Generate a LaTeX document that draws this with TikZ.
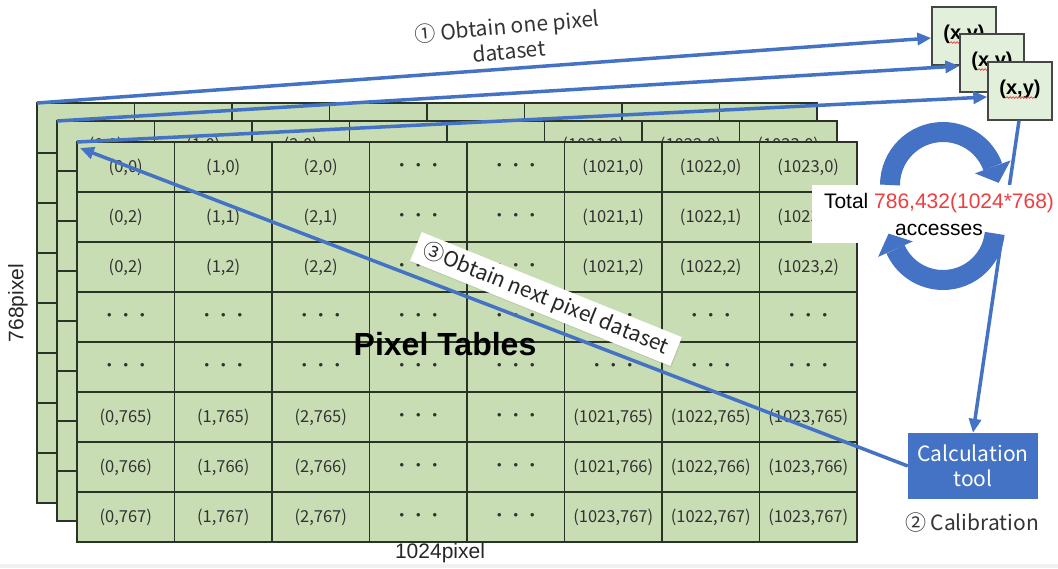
\documentclass[tikz,border=0pt]{standalone}
\usepackage{fontspec}
\setmainfont{Liberation Sans}
\newfontfamily\jp{Noto Sans CJK JP}
\usetikzlibrary{arrows.meta,decorations.pathmorphing,calc,shadows}
\definecolor{cellgreen}{RGB}{200,221,180}
\definecolor{boxgreen}{RGB}{226,239,218}
\definecolor{gridc}{RGB}{42,52,38}
\definecolor{boxborder}{RGB}{70,70,70}
\definecolor{myblue}{RGB}{68,114,196}
\definecolor{myred}{RGB}{238,62,62}
\definecolor{celltext}{RGB}{50,50,50}
\newcommand\dd{・・・}
\newcommand\fsz[2]{\fontsize{#1}{#2}\selectfont}
\tikzset{
  gridline/.style={draw=gridc,line width=1.4pt},
  celltxt/.style={font=\jp\fsz{16.5}{18},text=celltext,inner sep=0pt},
  flow/.style={draw=myblue,line width=3.5pt,-{Triangle[length=14pt,width=12pt]}},
  bigarc/.style={draw=myblue,line width=20pt},
  bighead/.style={fill=myblue},
  xybox/.style={draw=boxborder,fill=boxgreen,line width=1.3pt,minimum width=64pt,minimum height=58pt,inner sep=0pt},
  xytxt/.style={font=\bfseries\fsz{20}{22},inner sep=0pt},
  squig/.style={draw=myred,line width=0.7pt,decorate,decoration={snake,amplitude=0.8pt,segment length=3pt}},
  lbl/.style={font=\jp\fsz{21}{25},align=center,inner sep=0pt,text=black!80},
}
\newcommand\pixgrid[2]{%
  \fill[cellgreen] (#1,#2) rectangle ++(780,400);
  \foreach \i in {1,...,7} \draw[gridline] ({#1+\i*97.5},#2) -- ++(0,400);
  \foreach \j in {1,...,7} \draw[gridline] (#1,{#2+\j*50}) -- ++(780,0);
  \draw[gridline] (#1,#2) rectangle ++(780,400);
}
\begin{document}
\begin{tikzpicture}[x=1pt,y=-1pt]
\useasboundingbox (0,0) rectangle (1058,568);
\fill[gray!12] (0,564) rectangle (1058,568);

% back and middle tables
\pixgrid{37}{103}
\pixgrid{57}{121}
\foreach [count=\c from 0] \t in {{(0,0)},{(1,0)},{(2,0)},\dd,\dd,{(1021,0)},{(1022,0)},{(1023,0)}}
  \node[celltxt] (ma\c) at ({105.75+97.5*\c},145) {\t};
% front table
\pixgrid{77}{142}
\foreach [count=\c from 0] \t in {{(0,0)},{(1,0)},{(2,0)},\dd,\dd,{(1021,0)},{(1022,0)},{(1023,0)}}
  \node[celltxt] (fa\c) at ({125.75+97.5*\c},167) {\t};
\foreach [count=\c from 0] \t in {{(0,2)},{(1,1)},{(2,1)},\dd,\dd,{(1021,1)},{(1022,1)},{(1023,1)}}
  \node[celltxt] (fb\c) at ({125.75+97.5*\c},217) {\t};
\foreach [count=\c from 0] \t in {{(0,2)},{(1,2)},{(2,2)},\dd,\dd,{(1021,2)},{(1022,2)},{(1023,2)}}
  \node[celltxt] (fc\c) at ({125.75+97.5*\c},267) {\t};
\foreach \c in {0,...,7}
  \node[celltxt] (fd\c) at ({125.75+97.5*\c},317) {\dd};
\foreach \c in {0,...,7}
  \node[celltxt] (fe\c) at ({125.75+97.5*\c},367) {\dd};
\foreach [count=\c from 0] \t in {{(0,765)},{(1,765)},{(2,765)},\dd,\dd,{(1021,765)},{(1022,765)},{(1023,765)}}
  \node[celltxt] (ff\c) at ({125.75+97.5*\c},417) {\t};
\foreach [count=\c from 0] \t in {{(0,766)},{(1,766)},{(2,766)},\dd,\dd,{(1021,766)},{(1022,766)},{(1023,766)}}
  \node[celltxt] (fg\c) at ({125.75+97.5*\c},467) {\t};
\foreach [count=\c from 0] \t in {{(0,767)},{(1,767)},{(2,767)},\dd,\dd,{(1023,767)},{(1022,767)},{(1023,767)}}
  \node[celltxt] (fh\c) at ({125.75+97.5*\c},517) {\t};

\node[font=\bfseries\fsz{32}{32},anchor=base,inner sep=0pt] (title) at (445,355) {Pixel Tables};
\node[font=\fsz{21}{21},rotate=90,inner sep=0pt,text=black!85] (vlab) at (18,303) {768pixel};
\node[font=\fsz{21}{21},inner sep=0pt,text=black!85] (hlab) at (440,553) {1024pixel};

\coordinate (bk) at (37,103);
\coordinate (md) at (57,121);
\coordinate (fr) at (77,142);
\coordinate (frin) at (80,148);

% (x,y) boxes
\node[xybox] (xy1) at (964,36) {};
\node[xytxt] (xt1) at (964,34) {(x,y)};
\draw[squig] ($(xt1.south west)+(7,-1)$) -- ($(xt1.south east)+(-6,-1)$);
\node[xybox] (xy2) at (992,63) {};
\node[xytxt] (xt2) at (992,61) {(x,y)};
\draw[squig] ($(xt2.south west)+(7,-1)$) -- ($(xt2.south east)+(-6,-1)$);
\node[xybox] (xy3) at (1020,91) {};
\node[xytxt] (xt3) at (1020,89) {(x,y)};
\draw[squig] ($(xt3.south west)+(7,-1)$) -- ($(xt3.south east)+(-6,-1)$);

% calculation tool
\node[fill=myblue,minimum width=130pt,minimum height=66pt,inner sep=0pt,text=white,font=\jp\fsz{21}{25},align=center] (calc) at (973,466) {Calculation\\tool};
\node[lbl] (lbl2) at (972,523) {② Calibration};

% connectors
\draw[flow] (bk) -- ($(xy1.west)+(0,2)$);
\draw[flow] (md) -- ($(xy2.west)+(0,3)$);
\draw[flow] (fr) -- ($(xy3.west)+(0,6)$);
\draw[flow] ($(xy3.south)+(-1,0)$) -- (calc.north);
\draw[flow] (calc.west) -- (frin);

% total accesses
\node[fill=white,minimum width=246pt,minimum height=58pt,inner sep=0pt] (totbox) at (935,214) {};
\coordinate (cu) at (943,185);
\coordinate (cl) at (943,228);
\draw[bigarc] ($(cu)+(180:53)$) arc[start angle=180,end angle=340,radius=53];
\fill[bighead] ($(cu)+(340:72)$) -- ($(cu)+(340:53)+(70:17)$) -- ($(cu)+(340:34)$) -- cycle;
\draw[bigarc] ($(cl)+(6:52)$) arc[start angle=6,end angle=156,radius=52];
\fill[bighead] ($(cl)+(156:71)$) -- ($(cl)+(156:52)+(246:17)$) -- ($(cl)+(156:33)$) -- cycle;
\node[font=\fsz{21}{27},align=center,inner sep=0pt] (tottxt) at (939,214) {Total \textcolor{myred}{786,432(1024*768)}\\accesses};

% labels
\node[lbl,rotate=5] (lbl1) at (508,38) {① Obtain one pixel\\dataset};
\node[fill=white,rotate=-22,font=\jp\fsz{21}{25},text=black!85,inner xsep=9pt,inner ysep=0pt,minimum height=31pt,
      drop shadow={opacity=0.2,shadow xshift=1pt,shadow yshift=-1.5pt}] (lbl3) at (546,299) {③Obtain next pixel dataset};
\end{tikzpicture}
\end{document}
